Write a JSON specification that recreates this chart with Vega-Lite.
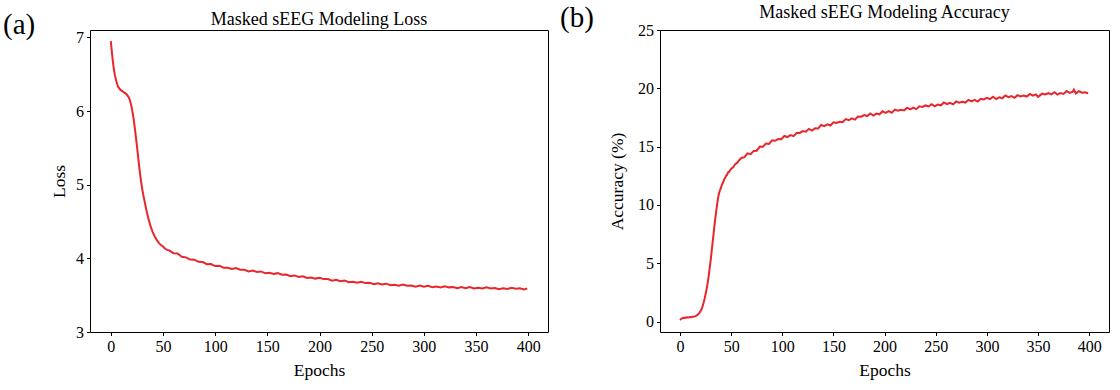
{
"$schema": "https://vega.github.io/schema/vega-lite/v6.json",
"background": "white",
"padding": {"left": 3, "top": 3, "right": 5, "bottom": 5},
"datasets": {
"loss": [
{"epoch":0,"loss":6.95},{"epoch":1,"loss":6.80},{"epoch":2,"loss":6.67},{"epoch":3,"loss":6.56},{"epoch":4,"loss":6.48},{"epoch":5,"loss":6.42},{"epoch":6,"loss":6.37},{"epoch":7,"loss":6.33},{"epoch":8,"loss":6.31},{"epoch":9,"loss":6.29},{"epoch":10,"loss":6.28},{"epoch":11,"loss":6.27},{"epoch":12,"loss":6.26},{"epoch":13,"loss":6.25},{"epoch":14,"loss":6.24},{"epoch":15,"loss":6.23},{"epoch":16,"loss":6.21},{"epoch":17,"loss":6.19},{"epoch":18,"loss":6.16},{"epoch":19,"loss":6.11},{"epoch":20,"loss":6.05},{"epoch":21,"loss":5.97},{"epoch":22,"loss":5.88},{"epoch":23,"loss":5.77},{"epoch":24,"loss":5.65},{"epoch":25,"loss":5.53},{"epoch":26,"loss":5.40},{"epoch":27,"loss":5.27},{"epoch":28,"loss":5.15},{"epoch":29,"loss":5.04},{"epoch":30,"loss":4.95},{"epoch":31,"loss":4.87},{"epoch":32,"loss":4.80},{"epoch":33,"loss":4.73},{"epoch":34,"loss":4.66},{"epoch":35,"loss":4.60},{"epoch":36,"loss":4.54},{"epoch":37,"loss":4.49},{"epoch":38,"loss":4.44},{"epoch":39,"loss":4.40},{"epoch":40,"loss":4.36},{"epoch":42,"loss":4.30},{"epoch":44,"loss":4.25},{"epoch":46,"loss":4.21},{"epoch":48,"loss":4.18},{"epoch":50,"loss":4.16},{"epoch":52,"loss":4.13},{"epoch":54,"loss":4.115},
{"epoch":56,"loss":4.108},{"epoch":60,"loss":4.070},{"epoch":64,"loss":4.065},{"epoch":68,"loss":4.022},{"epoch":72,"loss":4.013},{"epoch":76,"loss":3.984},{"epoch":80,"loss":3.982},{"epoch":84,"loss":3.953},{"epoch":88,"loss":3.950},{"epoch":92,"loss":3.920},{"epoch":96,"loss":3.923},{"epoch":100,"loss":3.895},{"epoch":104,"loss":3.900},{"epoch":108,"loss":3.872},{"epoch":112,"loss":3.873},{"epoch":116,"loss":3.856},{"epoch":120,"loss":3.867},{"epoch":124,"loss":3.846},{"epoch":128,"loss":3.845},{"epoch":132,"loss":3.823},{"epoch":136,"loss":3.834},{"epoch":140,"loss":3.815},{"epoch":144,"loss":3.822},{"epoch":148,"loss":3.797},{"epoch":152,"loss":3.803},{"epoch":156,"loss":3.787},{"epoch":160,"loss":3.799},{"epoch":164,"loss":3.778},{"epoch":168,"loss":3.780},{"epoch":172,"loss":3.758},{"epoch":176,"loss":3.768},{"epoch":180,"loss":3.747},{"epoch":184,"loss":3.757},{"epoch":188,"loss":3.734},{"epoch":192,"loss":3.740},{"epoch":196,"loss":3.725},{"epoch":200,"loss":3.737},{"epoch":204,"loss":3.718},{"epoch":208,"loss":3.718},{"epoch":212,"loss":3.697},{"epoch":216,"loss":3.708},{"epoch":220,"loss":3.690},{"epoch":224,"loss":3.700},{"epoch":228,"loss":3.677},{"epoch":232,"loss":3.683},{"epoch":236,"loss":3.669},{"epoch":240,"loss":3.682},{"epoch":244,"loss":3.664},{"epoch":248,"loss":3.667},{"epoch":252,"loss":3.648},{"epoch":256,"loss":3.662},{"epoch":260,"loss":3.645},{"epoch":264,"loss":3.656},{"epoch":268,"loss":3.634},{"epoch":272,"loss":3.641},{"epoch":276,"loss":3.629},{"epoch":280,"loss":3.644},{"epoch":284,"loss":3.628},{"epoch":288,"loss":3.632},{"epoch":292,"loss":3.614},{"epoch":296,"loss":3.630},{"epoch":300,"loss":3.615},{"epoch":304,"loss":3.628},{"epoch":308,"loss":3.608},{"epoch":312,"loss":3.617},{"epoch":316,"loss":3.606},{"epoch":320,"loss":3.622},{"epoch":324,"loss":3.606},{"epoch":328,"loss":3.611},{"epoch":332,"loss":3.594},{"epoch":336,"loss":3.610},{"epoch":340,"loss":3.595},{"epoch":344,"loss":3.609},{"epoch":348,"loss":3.590},{"epoch":352,"loss":3.600},{"epoch":356,"loss":3.590},{"epoch":360,"loss":3.607},{"epoch":364,"loss":3.592},{"epoch":368,"loss":3.598},{"epoch":372,"loss":3.582},{"epoch":376,"loss":3.594},{"epoch":380,"loss":3.584},{"epoch":384,"loss":3.601},{"epoch":388,"loss":3.587},{"epoch":392,"loss":3.593},{"epoch":396,"loss":3.578},{"epoch":399,"loss":3.590}
],
"acc": [
{"epoch":0,"acc":0.12},{"epoch":1,"acc":0.22},{"epoch":2,"acc":0.27},{"epoch":3,"acc":0.31},{"epoch":4,"acc":0.30},{"epoch":5,"acc":0.34},{"epoch":6,"acc":0.33},{"epoch":7,"acc":0.36},{"epoch":8,"acc":0.35},{"epoch":9,"acc":0.37},{"epoch":10,"acc":0.38},{"epoch":11,"acc":0.37},{"epoch":12,"acc":0.40},{"epoch":13,"acc":0.41},{"epoch":14,"acc":0.43},{"epoch":15,"acc":0.46},{"epoch":16,"acc":0.51},{"epoch":17,"acc":0.57},{"epoch":18,"acc":0.64},{"epoch":19,"acc":0.74},{"epoch":20,"acc":0.87},{"epoch":21,"acc":1.05},{"epoch":22,"acc":1.30},{"epoch":23,"acc":1.60},{"epoch":24,"acc":1.95},{"epoch":25,"acc":2.35},{"epoch":26,"acc":2.80},{"epoch":27,"acc":3.30},{"epoch":28,"acc":3.90},{"epoch":29,"acc":4.60},{"epoch":30,"acc":5.30},{"epoch":31,"acc":6.10},{"epoch":32,"acc":6.90},{"epoch":33,"acc":7.70},{"epoch":34,"acc":8.50},{"epoch":35,"acc":9.20},{"epoch":36,"acc":9.90},{"epoch":37,"acc":10.50},{"epoch":38,"acc":10.95},{"epoch":39,"acc":11.25},{"epoch":40,"acc":11.45},{"epoch":41,"acc":11.75},{"epoch":42,"acc":11.90},{"epoch":43,"acc":12.15},{"epoch":44,"acc":12.30},{"epoch":45,"acc":12.50},{"epoch":46,"acc":12.58},{"epoch":47,"acc":12.80},{"epoch":48,"acc":12.83},{"epoch":50,"acc":13.10},{"epoch":52,"acc":13.22},{"epoch":54,"acc":13.50},{"epoch":56,"acc":13.62},{"epoch":58,"acc":13.85},
{"epoch":60,"acc":14.03},{"epoch":63,"acc":14.10},{"epoch":66,"acc":14.42},{"epoch":69,"acc":14.35},{"epoch":72,"acc":14.63},{"epoch":75,"acc":14.65},{"epoch":78,"acc":15.00},{"epoch":81,"acc":14.99},{"epoch":84,"acc":15.26},{"epoch":87,"acc":15.23},{"epoch":90,"acc":15.54},{"epoch":93,"acc":15.50},{"epoch":96,"acc":15.66},{"epoch":99,"acc":15.64},{"epoch":102,"acc":15.91},{"epoch":105,"acc":15.82},{"epoch":108,"acc":15.99},{"epoch":111,"acc":15.90},{"epoch":114,"acc":16.17},{"epoch":117,"acc":16.17},{"epoch":120,"acc":16.33},{"epoch":123,"acc":16.28},{"epoch":126,"acc":16.52},{"epoch":129,"acc":16.38},{"epoch":132,"acc":16.58},{"epoch":135,"acc":16.56},{"epoch":138,"acc":16.85},{"epoch":141,"acc":16.76},{"epoch":144,"acc":16.91},{"epoch":147,"acc":16.81},{"epoch":150,"acc":17.09},{"epoch":153,"acc":17.03},{"epoch":156,"acc":17.13},{"epoch":159,"acc":17.09},{"epoch":162,"acc":17.36},{"epoch":165,"acc":17.26},{"epoch":168,"acc":17.42},{"epoch":171,"acc":17.31},{"epoch":174,"acc":17.57},{"epoch":177,"acc":17.56},{"epoch":180,"acc":17.70},{"epoch":183,"acc":17.62},{"epoch":186,"acc":17.84},{"epoch":189,"acc":17.66},{"epoch":192,"acc":17.83},{"epoch":195,"acc":17.77},{"epoch":198,"acc":18.03},{"epoch":201,"acc":17.90},{"epoch":204,"acc":18.04},{"epoch":207,"acc":17.91},{"epoch":210,"acc":18.17},{"epoch":213,"acc":18.07},{"epoch":216,"acc":18.16},{"epoch":219,"acc":18.10},{"epoch":222,"acc":18.34},{"epoch":225,"acc":18.20},{"epoch":228,"acc":18.34},{"epoch":231,"acc":18.21},{"epoch":234,"acc":18.45},{"epoch":237,"acc":18.40},{"epoch":240,"acc":18.53},{"epoch":243,"acc":18.44},{"epoch":246,"acc":18.64},{"epoch":249,"acc":18.45},{"epoch":252,"acc":18.60},{"epoch":255,"acc":18.54},{"epoch":258,"acc":18.79},{"epoch":261,"acc":18.65},{"epoch":264,"acc":18.76},{"epoch":267,"acc":18.62},{"epoch":270,"acc":18.87},{"epoch":273,"acc":18.77},{"epoch":276,"acc":18.85},{"epoch":279,"acc":18.78},{"epoch":282,"acc":19.01},{"epoch":285,"acc":18.87},{"epoch":288,"acc":19.00},{"epoch":291,"acc":18.86},{"epoch":294,"acc":19.10},{"epoch":297,"acc":19.05},{"epoch":300,"acc":19.18},{"epoch":303,"acc":19.07},{"epoch":306,"acc":19.27},{"epoch":309,"acc":19.07},{"epoch":312,"acc":19.22},{"epoch":315,"acc":19.14},{"epoch":318,"acc":19.39},{"epoch":321,"acc":19.24},{"epoch":324,"acc":19.34},{"epoch":327,"acc":19.18},{"epoch":330,"acc":19.41},{"epoch":333,"acc":19.30},{"epoch":336,"acc":19.37},{"epoch":339,"acc":19.29},{"epoch":342,"acc":19.52},{"epoch":345,"acc":19.37},{"epoch":348,"acc":19.48},{"epoch":350,"acc":19.26},{"epoch":351,"acc":19.33},{"epoch":354,"acc":19.54},{"epoch":357,"acc":19.48},{"epoch":360,"acc":19.58},{"epoch":363,"acc":19.47},{"epoch":366,"acc":19.66},{"epoch":369,"acc":19.46},{"epoch":372,"acc":19.60},{"epoch":375,"acc":19.52},{"epoch":378,"acc":19.76},{"epoch":381,"acc":19.61},{"epoch":384,"acc":19.71},{"epoch":385,"acc":19.88},{"epoch":387,"acc":19.56},{"epoch":390,"acc":19.76},{"epoch":393,"acc":19.62},{"epoch":396,"acc":19.65},{"epoch":399,"acc":19.58}
]
},
"config": {
"font": "Liberation Serif",
"view": {"stroke": "#000000", "strokeWidth": 1},
"axis": {"grid": false, "domain": false, "labelFont": "Liberation Serif", "labelFontSize": 16, "labelColor": "#000000", "titleFont": "Liberation Serif", "titleFontSize": 17.5, "titleFontWeight": "normal", "titleColor": "#000000", "tickColor": "#000000", "tickSize": 3.5, "labelPadding": 3, "titlePadding": 7},
"title": {"font": "Liberation Serif", "fontWeight": "normal", "color": "#000000"}
},
"spacing": 11,
"hconcat": [
{
"title": {"text": "(a)", "anchor": "start", "fontSize": 29, "baseline": "top", "offset": -30, "dx": -47},
"hconcat": [
{
"title": {"text": "Masked sEEG Modeling Loss", "fontSize": 18, "anchor": "middle", "offset": 0.5},
"width": 458, "height": 302,
"data": {"name": "loss"},
"mark": {"type": "line", "color": "#e8262b", "strokeWidth": 2},
"encoding": {
"x": {"field": "epoch", "type": "quantitative", "scale": {"domain": [-19.95, 418.95], "nice": false, "zero": false}, "axis": {"title": "Epochs", "values": [0,50,100,150,200,250,300,350,400], "labelFont": "Liberation Serif"}},
"y": {"field": "loss", "type": "quantitative", "scale": {"domain": [3, 7.1], "nice": false, "zero": false}, "axis": {"title": "Loss", "values": [3,4,5,6,7], "labelFont": "Liberation Serif"}}
}
}
]
},
{
"title": {"text": "(b)", "anchor": "start", "fontSize": 29, "baseline": "top", "offset": -30, "dx": -48},
"hconcat": [
{
"title": {"text": "Masked sEEG Modeling Accuracy", "fontSize": 18, "anchor": "middle", "offset": 0.5},
"width": 449, "height": 302,
"data": {"name": "acc"},
"mark": {"type": "line", "color": "#e8262b", "strokeWidth": 2},
"encoding": {
"x": {"field": "epoch", "type": "quantitative", "scale": {"domain": [-19.6, 419.4], "nice": false, "zero": false}, "axis": {"title": "Epochs", "values": [0,50,100,150,200,250,300,350,400], "labelFont": "Liberation Serif"}},
"y": {"field": "acc", "type": "quantitative", "scale": {"domain": [-0.9, 25], "nice": false, "zero": false}, "axis": {"title": "Accuracy (%)", "values": [0,5,10,15,20,25], "labelFont": "Liberation Serif", "titlePadding": 11}}
}
}
]
}
]
}
